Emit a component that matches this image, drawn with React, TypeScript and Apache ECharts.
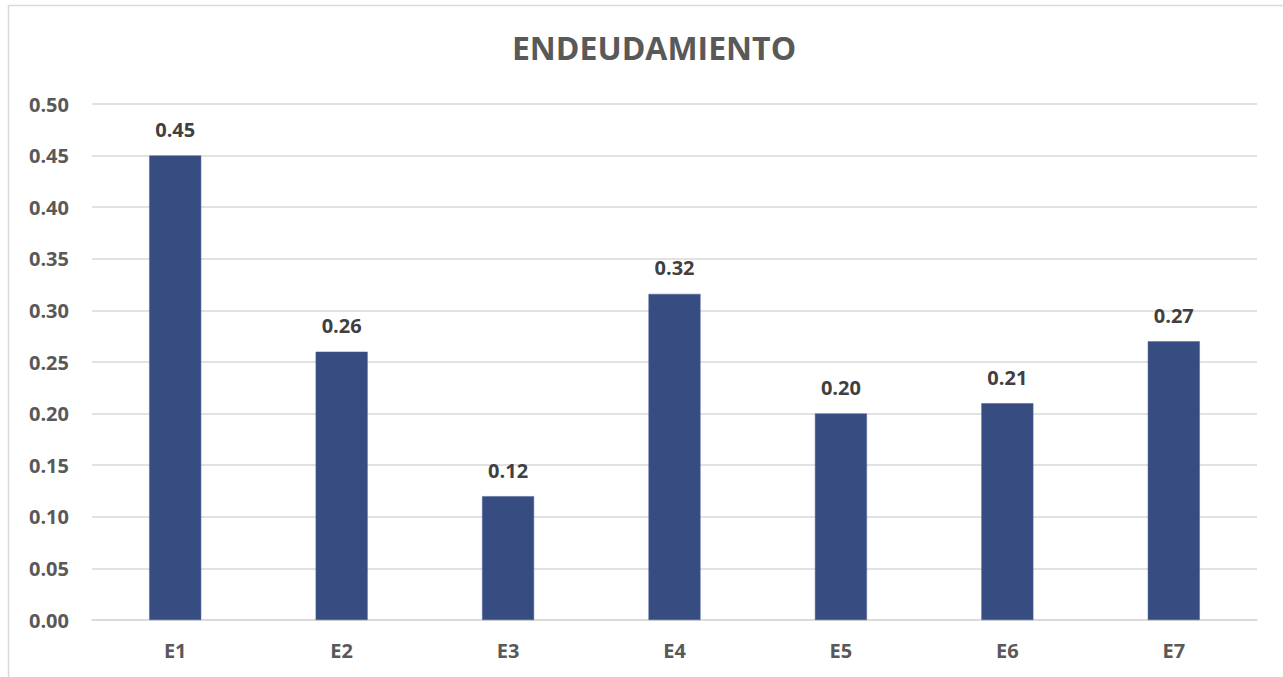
import React, { useEffect, useRef } from "react";
import * as echarts from "echarts";

const categories = ["E1", "E2", "E3", "E4", "E5", "E6", "E7"];
const values = [0.45, 0.26, 0.12, 0.316, 0.2, 0.21, 0.27];
const titleText = "ENDEUDAMIENTO";

export default function App() {
  const ref = useRef<HTMLDivElement>(null);
  useEffect(() => {
    if (!ref.current) return;
    const chart = echarts.init(ref.current, undefined, { renderer: "svg" });
    const font = "'Open Sans', 'Noto Sans', sans-serif";
    chart.setOption({
      animation: false,
      backgroundColor: "#ffffff",
      title: {
        text: titleText,
        left: 649,
        textAlign: "center",
        top: 26,
        textStyle: { fontFamily: font, fontWeight: "bold", fontSize: 32, color: "#595959" },
      },
      graphic: [
        {
          type: "rect",
          shape: { x: 8.5, y: 5.5, width: 1400, height: 800 },
          style: { fill: "none", stroke: "#d9d9d9", lineWidth: 1.5 },
          silent: true,
          z: 100,
        },
      ],
      grid: { left: 92, right: 26, top: 104, bottom: 57, containLabel: false },
      xAxis: {
        type: "category",
        data: categories,
        axisTick: { show: false },
        axisLine: { show: true, lineStyle: { color: "#d9d9d9", width: 1.5 } },
        axisLabel: { margin: 20, fontFamily: font, fontWeight: "bold", fontSize: 20, color: "#595959" },
      },
      yAxis: {
        type: "value",
        min: 0,
        max: 0.5,
        interval: 0.05,
        axisLine: { show: false },
        axisTick: { show: false },
        splitLine: { lineStyle: { color: "#d9d9d9", width: 1.5 } },
        axisLabel: {
          margin: 23,
          fontFamily: font,
          fontWeight: "bold",
          fontSize: 20,
          color: "#595959",
          formatter: (v: number) => v.toFixed(2),
        },
      },
      series: [
        {
          type: "bar",
          data: values,
          barWidth: 52,
          itemStyle: { color: "#374C80", borderColor: "#4A6096", borderWidth: 0.5 },
          label: {
            show: true,
            position: "top",
            distance: 16,
            fontFamily: font,
            fontWeight: "bold",
            fontSize: 20,
            color: "#404040",
            formatter: (p: any) => (p.value as number).toFixed(2),
          },
        },
      ],
    });
    return () => chart.dispose();
  }, []);
  return (
    <div
      ref={ref}
      style={{ position: "fixed", left: 0, top: 0, width: 1283, height: 677 }}
    />
  );
}
